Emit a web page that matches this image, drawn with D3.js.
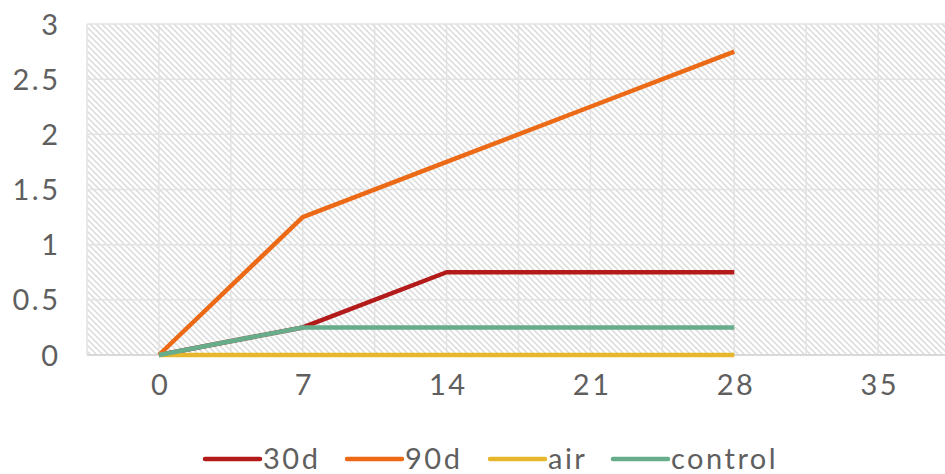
<!DOCTYPE html>
<html><head><meta charset="utf-8">
<script src="https://cdn.jsdelivr.net/npm/d3@7"></script>
<style>body{margin:0;background:#fff}svg{display:block}text{font-family:Lato,"Open Sans",sans-serif;fill:#5f5f5f;font-weight:400}</style>
</head><body>
<svg id="c" width="945" height="474"></svg>
<script>
const days = [0, 7, 14, 21, 28];
const s30d = [0, 0.25, 0.75, 0.75, 0.75];
const s90d = [0, 1.25, 1.75, 2.25, 2.75];
const sAir = [0, 0, 0, 0, 0];
const sControl = [0, 0.25, 0.25, 0.25, 0.25];
const seriesNames = ["30d", "90d", "air", "control"];
const seriesColors = ["#b31b1b", "#ec6a16", "#e6b62d", "#67ac8b"];
const xTicks = [0, 7, 14, 21, 28, 35];
const yTicks = [0, 0.5, 1, 1.5, 2, 2.5, 3];

const svg = d3.select("#c");
const L = 87, R = 950, T = 24, B = 355;
const x = d3.scaleLinear().domain([-3.5, 38.5]).range([L, R]);
const y = d3.scaleLinear().domain([0, 3]).range([B, T]);

const defs = svg.append("defs");
const pat = defs.append("pattern").attr("id","hatch").attr("patternUnits","userSpaceOnUse")
  .attr("width",6).attr("height",6);
pat.append("rect").attr("width",6).attr("height",6).attr("fill","#fff");
pat.append("path").attr("d","M-1,-1 L7,7 M-1,5 L1,7 M5,-1 L7,1").attr("stroke","#dadada").attr("stroke-width",1.5);

svg.append("rect").attr("x",L).attr("y",T).attr("width",R-L).attr("height",B-T).attr("fill","url(#hatch)");

// gridlines
const vg = d3.range(-3.5, 39, 3.5);
svg.append("g").selectAll("line").data(vg).join("line")
  .attr("x1",d=>x(d)).attr("x2",d=>x(d)).attr("y1",T).attr("y2",B)
  .attr("stroke","#e3e3e3").attr("stroke-width",1.5);
svg.append("g").selectAll("line").data(yTicks).join("line")
  .attr("x1",L).attr("x2",R).attr("y1",d=>y(d)).attr("y2",d=>y(d))
  .attr("stroke","#e3e3e3").attr("stroke-width",1.5);
svg.append("line").attr("x1",L).attr("x2",R).attr("y1",B).attr("y2",B).attr("stroke","#d9d9d9").attr("stroke-width",2);

const fontSize = 29, ls = 2.5;
// axes
const ya = svg.append("g").attr("transform",`translate(${L-29+ls},0)`)
  .call(d3.axisLeft(y).tickValues(yTicks).tickSize(0).tickPadding(0).tickFormat(d3.format("")));
ya.select(".domain").remove();
ya.selectAll("text").attr("font-size",fontSize).attr("dy","0.35em").attr("letter-spacing",ls)
  .style("font-family","Lato,sans-serif").attr("fill","#5f5f5f");

const xa = svg.append("g").attr("transform",`translate(${ls/2},${B})`)
  .call(d3.axisBottom(x).tickValues(xTicks).tickSize(0).tickPadding(30).tickFormat(d3.format("")));
xa.select(".domain").remove();
xa.selectAll("text").attr("font-size",fontSize).attr("dy","0.35em").attr("letter-spacing",ls)
  .style("font-family","Lato,sans-serif").attr("fill","#5f5f5f");

// lines (later series drawn on top)
const allSeries = [s30d, s90d, sAir, sControl];
const line = d3.line().x((d,i)=>x(days[i])).y(d=>y(d));
allSeries.forEach((s,k) => {
  svg.append("path").datum(s).attr("d",line).attr("fill","none")
    .attr("stroke",seriesColors[k]).attr("stroke-width",4.5).attr("stroke-linejoin","round");
});

// legend
const legX = [205, 347, 490, 613];
const lg = svg.append("g");
seriesNames.forEach((n,i)=>{
  lg.append("line").attr("x1",legX[i]).attr("x2",legX[i]+55).attr("y1",459).attr("y2",459)
    .attr("stroke",seriesColors[i]).attr("stroke-width",4.5).attr("stroke-linecap","round");
  lg.append("text").attr("x",legX[i]+58).attr("y",459).attr("dy","0.35em").attr("font-size",fontSize)
    .attr("letter-spacing",ls).text(n);
});
</script>
</body></html>
